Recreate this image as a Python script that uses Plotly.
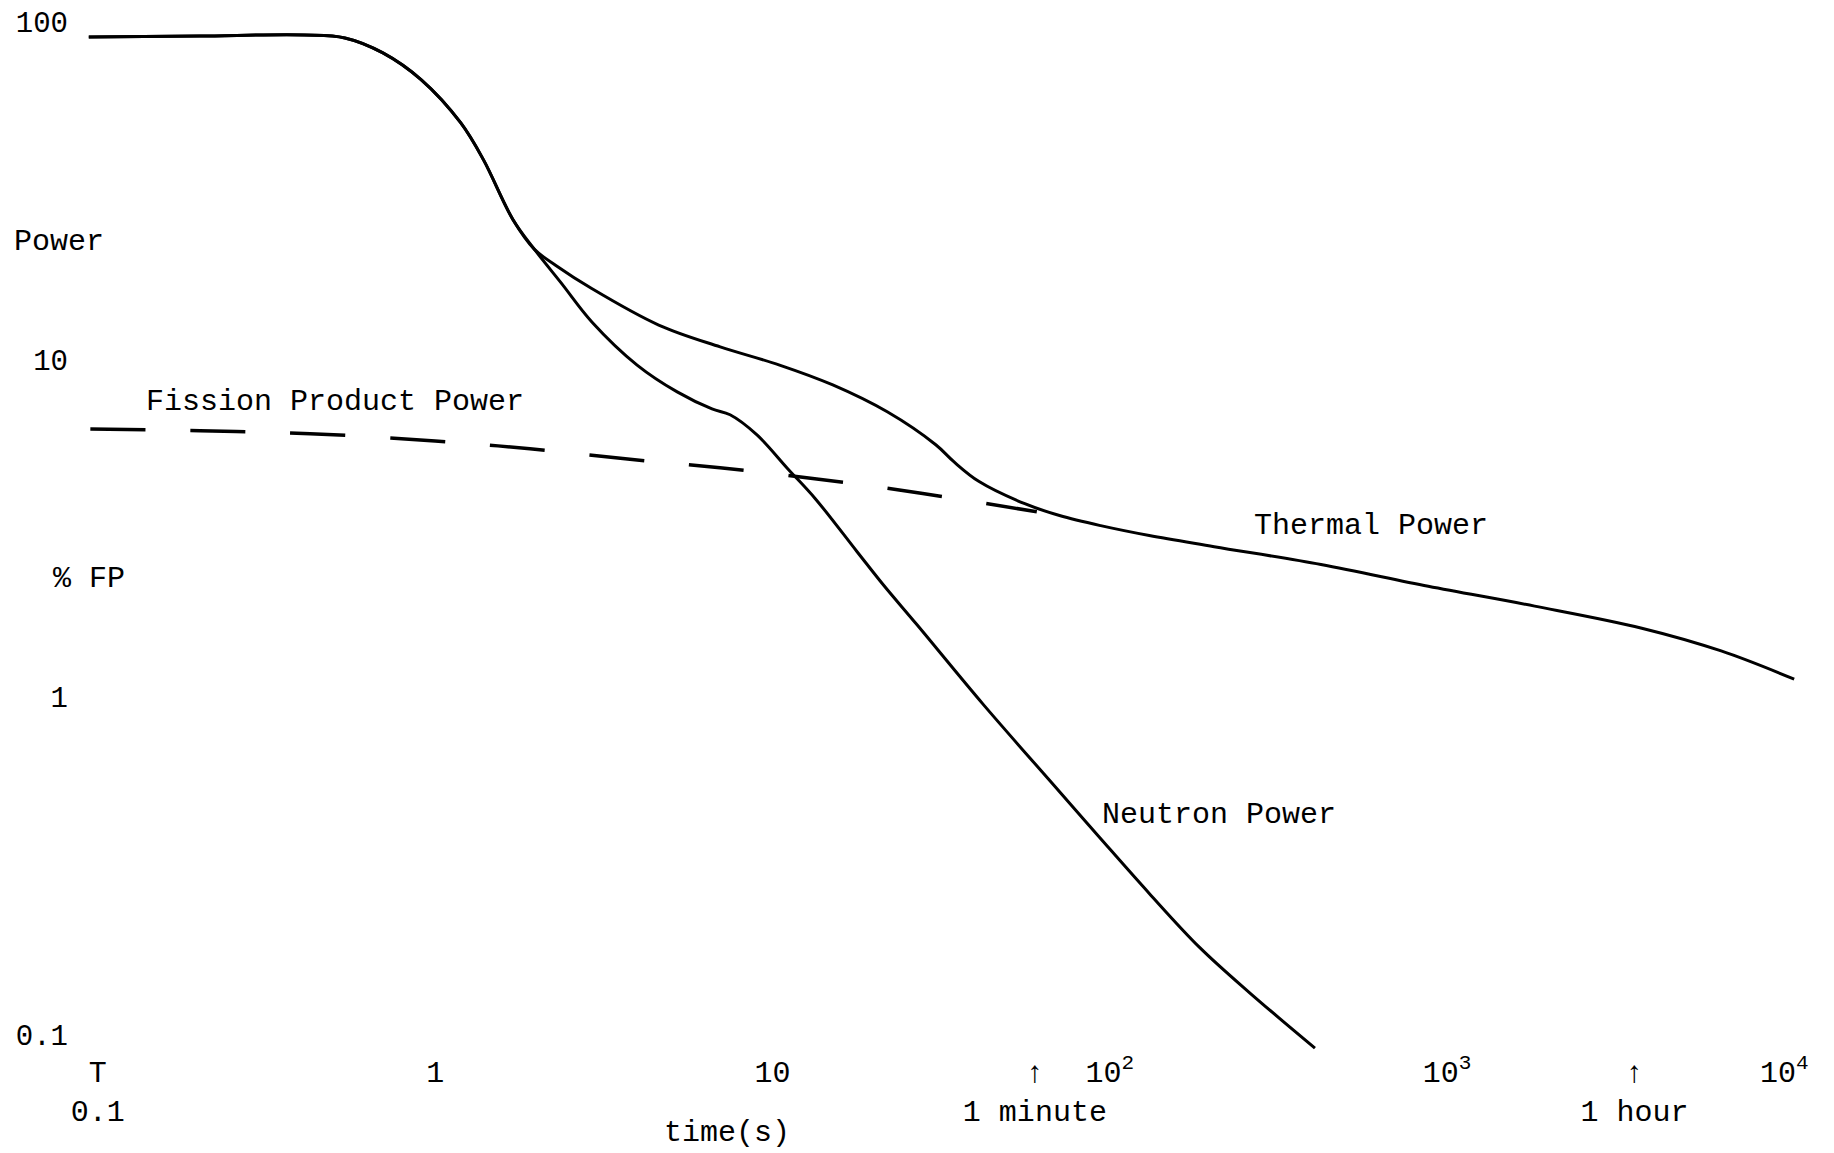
import plotly.graph_objects as go

# ---- data (time in s, power in % FP) ----
thermal_t = [0.094, 0.20, 0.41, 0.54, 0.70, 0.91, 1.19, 1.39, 1.70, 1.97, 2.28, 2.92,
             4.6, 7.0, 10.5, 15.1, 21.9, 30.5, 34.5, 41, 56, 71, 94, 131, 204, 423,
             880, 1820, 3780, 6500, 10700]
thermal_p = [90.3, 90.9, 91.5, 89.7, 81.0, 67.4, 50.3, 39.1, 26.0, 21.2, 19.0, 16.2,
             12.65, 10.9, 9.63, 8.41, 7.0, 5.59, 4.98, 4.35, 3.74, 3.45, 3.22, 3.01, 2.79, 2.47,
             2.13, 1.86, 1.60, 1.37, 1.13]

neutron_t = [0.094, 0.20, 0.41, 0.54, 0.70, 0.91, 1.19, 1.39, 1.70, 1.97, 2.36, 2.92,
             3.97, 5.22, 6.62, 7.49, 9.0, 11.1, 13.4, 17.8, 21.4, 26.8, 42.1, 66.5,
             93.5, 131, 185, 260, 406]
neutron_p = [90.3, 90.9, 91.5, 89.7, 81.0, 67.4, 50.3, 39.1, 26.0, 21.2, 16.9, 12.9,
             9.63, 8.02, 7.14, 6.86, 5.98, 4.75, 3.87, 2.70, 2.14, 1.64, 0.953, 0.565,
             0.383, 0.262, 0.181, 0.133, 0.0912]

fission_t = [0.095, 0.201, 0.426, 1.0, 1.91, 3.66, 6.99, 16.4, 27.9, 60.8]
fission_p = [6.23, 6.15, 6.03, 5.74, 5.44, 5.08, 4.78, 4.32, 4.01, 3.54]

x_tickvals = [0.1, 1, 10, 60, 100, 1000, 3600, 10000]
x_ticktext = ["T<br>0.1", "1", "10", "\u2191<br>1 minute", "10<sup>2</sup>",
              "10<sup>3</sup>", "\u2191<br>1 hour", "10<sup>4</sup>"]
y_tickvals = [0.1, 1, 10, 100]
y_ticktext = ["0.1", "1", "10", "100"]

FONT = "Liberation Mono, Courier New, monospace"
OFF = 8  # page body margin
W, H = 1826, 1153
ML, MR, MT, MB = 73, 16, 0, 110

fig = go.Figure()
fig.add_trace(go.Scatter(x=thermal_t, y=thermal_p, mode="lines", line_shape="spline",
                         line=dict(color="black", width=3), name="Thermal Power"))
fig.add_trace(go.Scatter(x=neutron_t, y=neutron_p, mode="lines", line_shape="spline",
                         line=dict(color="black", width=3), name="Neutron Power"))
fig.add_trace(go.Scatter(x=fission_t, y=fission_p, mode="lines", line_shape="spline",
                         line=dict(color="black", width=3.5, dash="55px,45px"),
                         name="Fission Product Power"))

def px_x(xp):
    return (xp - OFF - ML) / (W - ML - MR)

def px_y(yp):
    return (H - MB - (yp - OFF)) / (H - MT - MB)

labels = [
    ("Power", 12, 240),
    ("% FP", 51, 578),
    ("Fission Product Power", 144, 401),
    ("Thermal Power", 1252, 525),
    ("Neutron Power", 1100, 815),
    ("time(s)", 662, 1133),
]
annotations = [
    dict(text=t, x=px_x(xp), y=px_y(yp), xref="paper", yref="paper",
         xanchor="left", yanchor="middle", showarrow=False,
         font=dict(family=FONT, size=30, color="black"))
    for t, xp, yp in labels
]

fig.update_layout(
    width=W, height=H,
    margin=dict(l=ML, r=MR, t=MT, b=MB),
    paper_bgcolor="white", plot_bgcolor="white",
    showlegend=False, hovermode=False,
    font=dict(family=FONT, size=30, color="black"),
    annotations=annotations,
    xaxis=dict(type="log", range=[-1.05, 4.1], showgrid=False, zeroline=False,
               showline=False, ticks="", tickvals=x_tickvals, ticktext=x_ticktext,
               tickangle=0, ticklabeloverflow="allow",
               tickfont=dict(family=FONT, size=30, color="black")),
    yaxis=dict(type="log", range=[-1.0485, 2.0355], showgrid=False, zeroline=False,
               showline=False, ticks="", tickvals=y_tickvals, ticktext=y_ticktext,
               ticklabelstandoff=12, ticklabeloverflow="allow",
               tickfont=dict(family=FONT, size=29, color="black")),
)

fig.write_html("out.html", config={"displayModeBar": False})
